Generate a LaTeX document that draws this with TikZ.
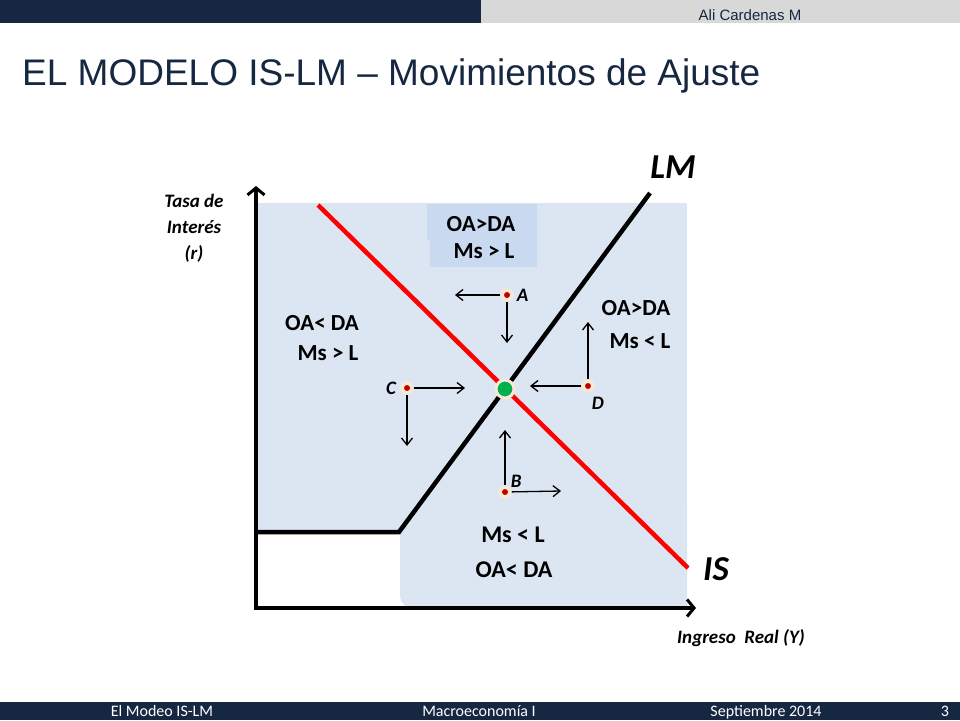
\documentclass[tikz,border=0pt]{standalone}
\usepackage{fontspec}
\setmainfont{Carlito}
\newfontfamily\arialfont{Liberation Sans}
\usetikzlibrary{arrows.meta,positioning}

\begin{document}
\begin{tikzpicture}[x=1pt,y=-1pt,
  texto/.style={font=\bfseries\fontsize{23}{26}\selectfont,inner sep=0pt},
  etiqueta/.style={font=\bfseries\itshape\fontsize{19}{20}\selectfont,inner sep=0pt},
  ejetexto/.style={font=\bfseries\itshape\fontsize{19}{26}\selectfont,align=center,inner sep=0pt},
  curva/.style={font=\bfseries\itshape\fontsize{35}{38}\selectfont,inner sep=0pt},
  pie/.style={font=\fontsize{16}{16}\selectfont,text=white,inner sep=0pt,anchor=base},
  punto/.style={circle,fill=rojoosc,draw=halo,line width=3.5pt,minimum size=10pt,inner sep=0pt},
  flecha/.style={line width=1.3pt,-{Straight Barb[length=7pt,width=11pt]}},
  eje/.style={line width=4pt,-{Straight Barb[length=7pt,width=17pt,line width=3pt]}}]
 \definecolor{navy}{RGB}{22,39,66}
 \definecolor{gris}{RGB}{216,216,216}
 \definecolor{fondo}{RGB}{220,230,242}
 \definecolor{caja}{RGB}{200,217,240}
 \definecolor{halo}{RGB}{246,234,212}
 \definecolor{rojo}{RGB}{255,0,0}
 \definecolor{rojoosc}{RGB}{192,0,0}
 \definecolor{verde}{RGB}{0,176,80}
 \useasboundingbox (0,0) rectangle (960,720);
 % cabecera y pie
 \fill[navy] (0,0) rectangle (481,23);
 \fill[gris] (481,0) rectangle (960,23);
 \node[font=\arialfont\fontsize{15}{17}\selectfont,text=navy,anchor=base,inner sep=0pt]
   (autor) at (750,20) {Ali Cardenas M};
 \node[font=\arialfont\fontsize{37}{40}\selectfont,text=navy,anchor=base west,inner sep=0pt]
   (titulo) at (22,85) {EL MODELO IS-LM – Movimientos de Ajuste};
 \fill[navy] (0,702) rectangle (960,720);
 \foreach \nombre/\xp/\txt in {
   pieA/162/El Modeo IS-LM, pieB/479/Macroeconomía I,
   pieC/766/Septiembre 2014, pieD/945/3
 } {
   \node[pie] (\nombre) at (\xp,716) {\txt};
 }
 % regiones
 \begin{scope}
   \clip (258,203) rectangle (687,608);
   \fill[fondo] (258,203) rectangle (687,533);
   \fill[fondo,rounded corners=12pt] (400,500) rectangle (720,608);
 \end{scope}
 \fill[caja] (427,204) rectangle (537,240);
 \fill[caja] (430,237) rectangle (537,267);
 % ejes
 \coordinate (O) at (256,608);
 \coordinate (ytop) at (256,186);
 \coordinate (xfin) at (696,608);
 \draw[eje] ([yshift=2pt]O) -- (ytop);
 \draw[eje] ([xshift=-2pt]O) -- (xfin);
 \node[ejetexto] (tasa) at (194,228) {Tasa de\\Interés\\(r)};
 \node[ejetexto] (ingreso) at (741,638) {Ingreso\ \ Real\ (Y)};
 % curvas
 \coordinate (lmini) at (256,532);
 \coordinate (kink) at (399,532);
 \coordinate (lmfin) at (650,193);
 \coordinate (isini) at (318,205);
 \coordinate (isfin) at (688,568);
 \draw[line width=4.5pt] (lmini) -- (kink) -- (lmfin);
 \draw[rojo,line width=4.5pt] (isini) -- (isfin);
 \node[curva] (LM) at (673,167) {LM};
 \node[curva] (IS) at (716,569) {IS};
 \node[circle,fill=verde,draw=halo,line width=3pt,minimum size=18pt,inner sep=0pt]
   (E) at (505,389) {};
 % textos
 \node[texto] (t1) at (481,224) {OA>DA};
 \node[texto] (t2) at (484,251) {Ms > L};
 \node[texto] (t3) at (322,323) {OA< DA};
 \node[texto] (t4) at (328,353) {Ms > L};
 \node[texto] (t5) at (636,308) {OA>DA};
 \node[texto] (t6) at (640,341) {Ms < L};
 \node[texto,font=\bfseries\fontsize{24}{26}\selectfont] (t7) at (513,535) {Ms < L};
 \node[texto,font=\bfseries\fontsize{24}{26}\selectfont] (t8) at (514,570) {OA< DA};
 % puntos y movimientos
 \foreach \nombre/\xp/\yp in {A/507/295, B/505/492, C/407/388, D/588/386} {
   \node[punto] (\nombre) at (\xp,\yp) {};
 }
 \node[etiqueta,right=3pt of A] (lA) {A};
 \node[etiqueta,above right=0pt and 1pt of B] (lB) {B};
 \node[etiqueta,left=4pt of C] (lC) {C};
 \node[etiqueta,below right=6pt and -1pt of D] (lD) {D};
 \coordinate (Aizq) at (455,295);
 \coordinate (Aabj) at (507,343);
 \coordinate (Barr) at (505,430);
 \coordinate (Bder) at (561,491);
 \coordinate (Cder) at (465,388);
 \coordinate (Cabj) at (407,446);
 \coordinate (Dizq) at (530,386);
 \coordinate (Darr) at (588,322);
 \draw[flecha] (A) -- (Aizq);
 \draw[flecha] (A) -- (Aabj);
 \draw[flecha] (B) -- (Barr);
 \draw[flecha] (B) -- (Bder);
 \draw[flecha] (C) -- (Cder);
 \draw[flecha] (C) -- (Cabj);
 \draw[flecha] (D) -- (Dizq);
 \draw[flecha] (D) -- (Darr);
\end{tikzpicture}
\end{document}
